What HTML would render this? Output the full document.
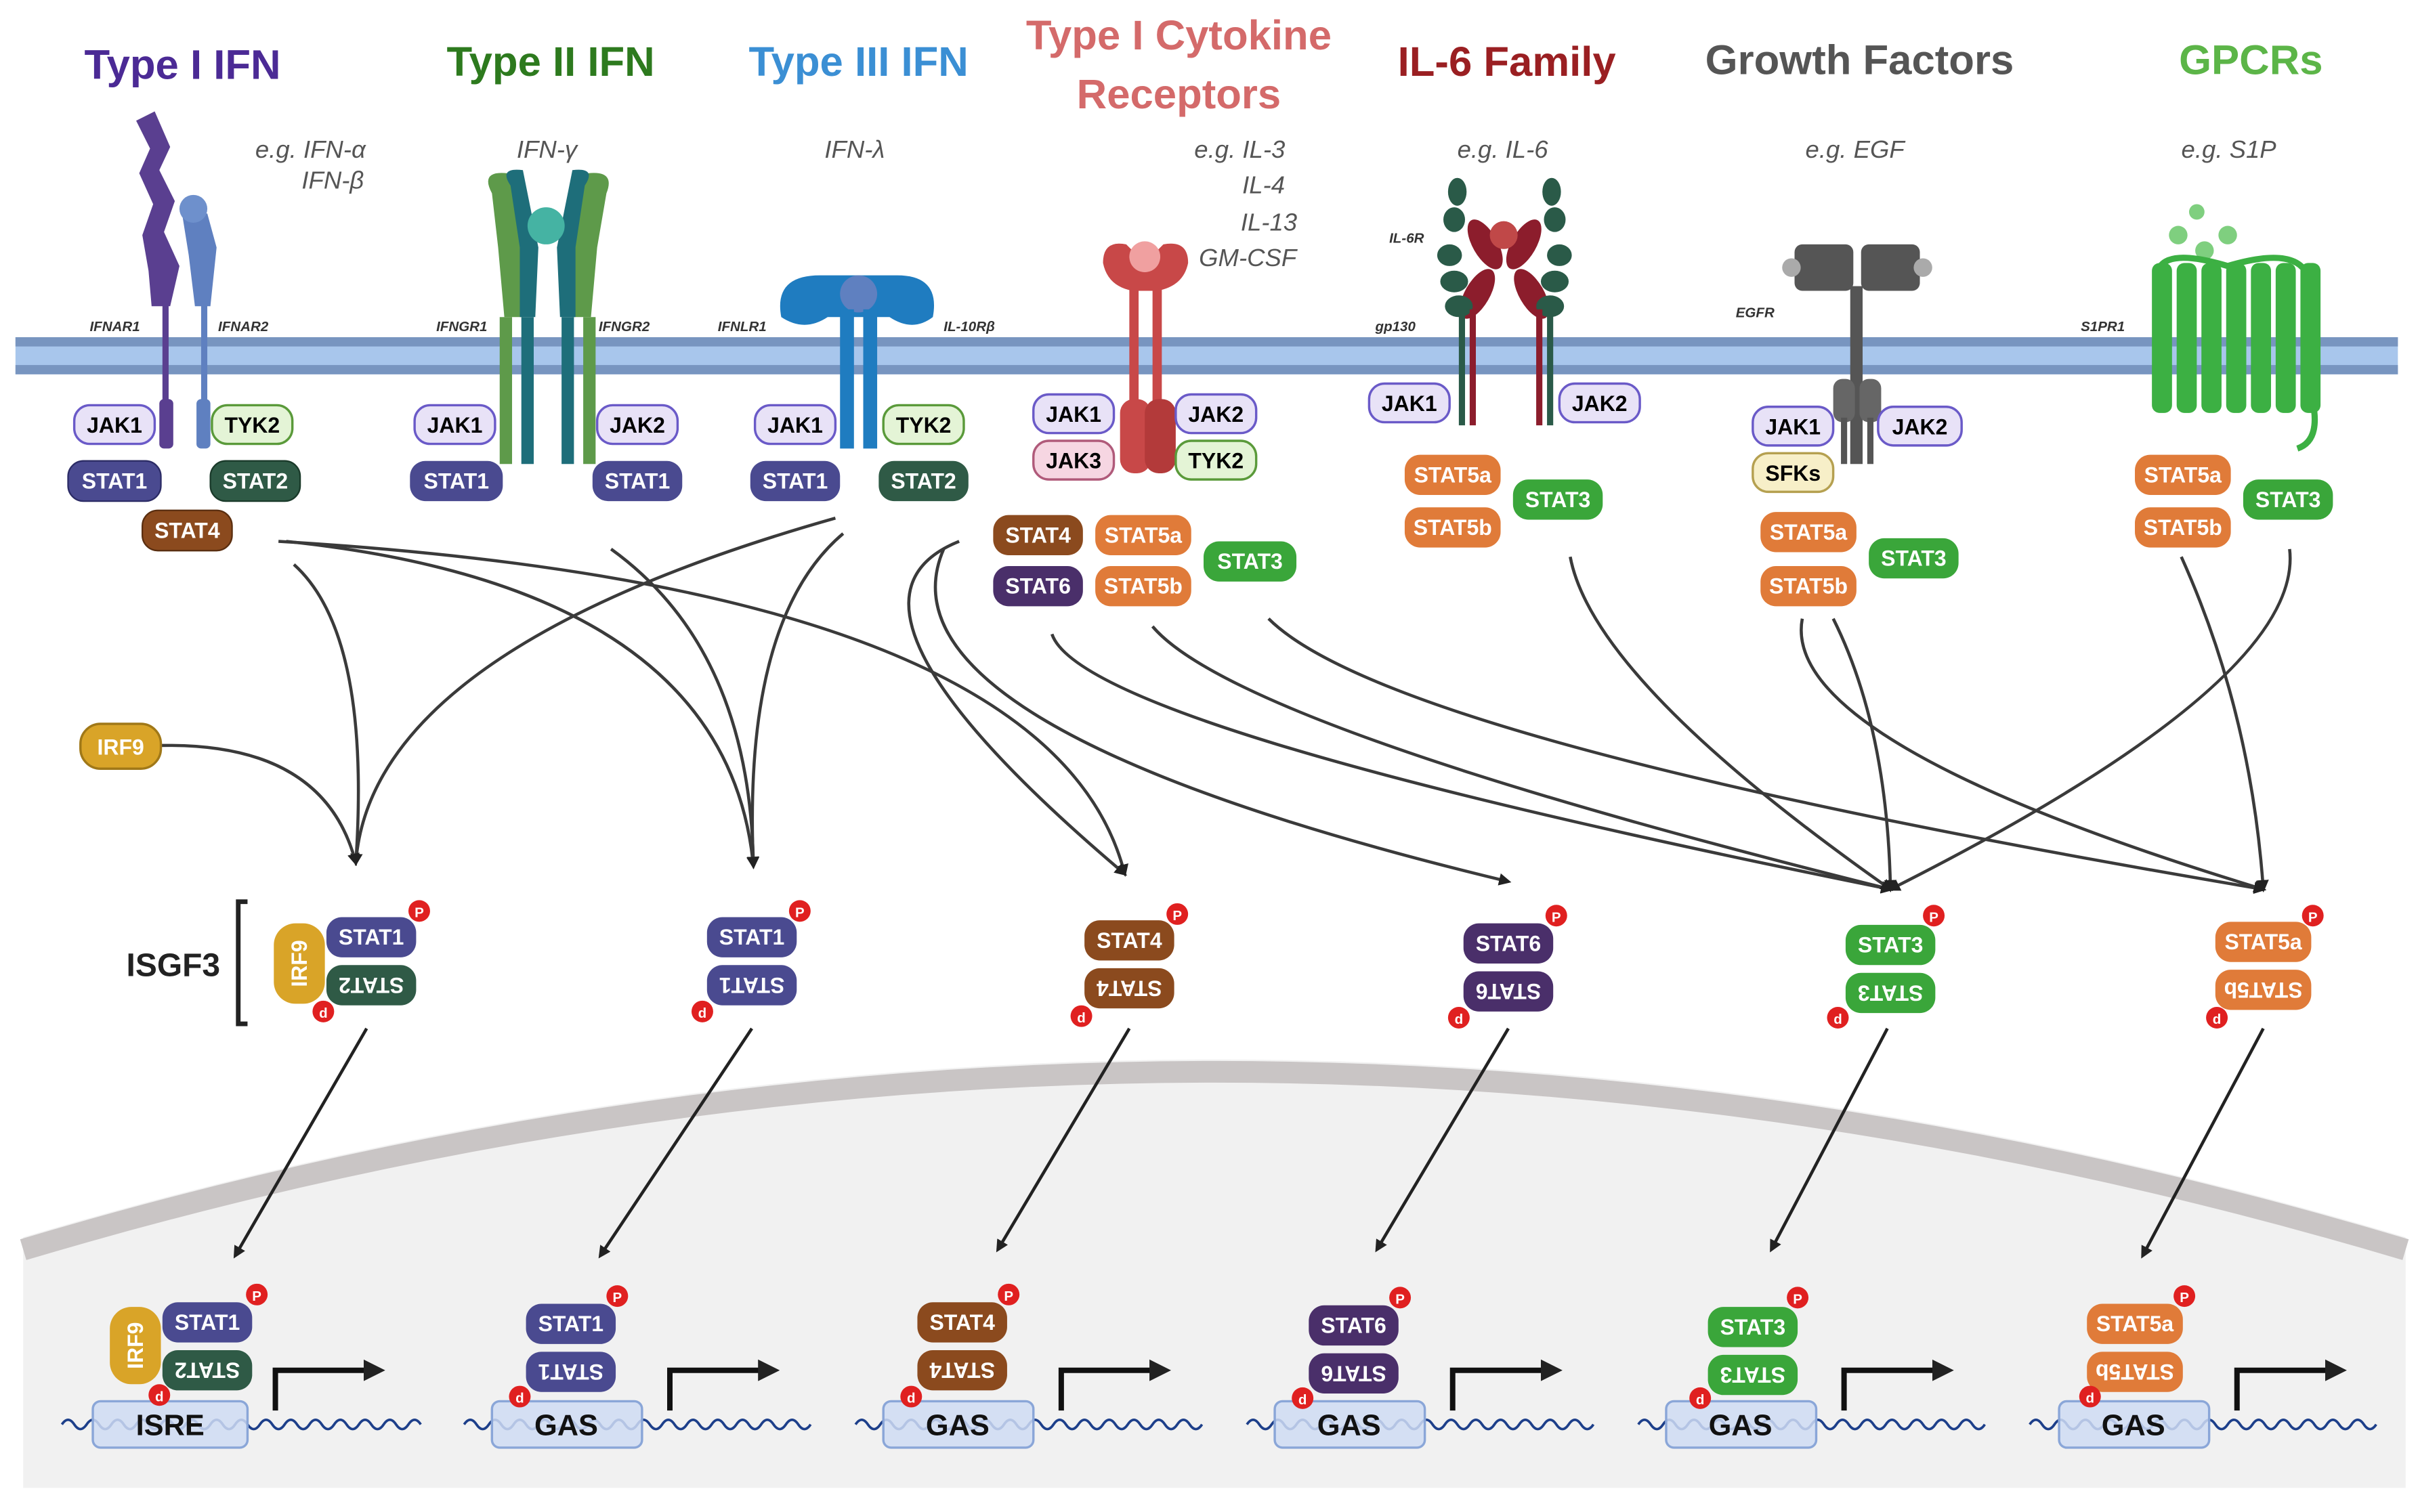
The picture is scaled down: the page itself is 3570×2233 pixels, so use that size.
<!DOCTYPE html>
<html><head><meta charset="utf-8"><style>
html,body{margin:0;padding:0;background:#fff}
svg{display:block}
text{font-family:"Liberation Sans",sans-serif}
.p{font-weight:bold;font-size:14px;text-anchor:middle;dominant-baseline:central}
.t{font-weight:bold;font-size:27px;text-anchor:middle}
.s{font-style:italic;font-size:16px;fill:#555}
.l{font-style:italic;font-weight:bold;font-size:9px;fill:#333}
.c{fill:none;stroke:#3a3a3a;stroke-width:2}
</style></head><body>
<svg width="3570" height="2233" viewBox="0 0 1563 977.6" xmlns="http://www.w3.org/2000/svg">
<defs>
<marker id="a" markerWidth="8" markerHeight="8" refX="6" refY="4" orient="auto" markerUnits="userSpaceOnUse"><path d="M0,0 L8,4 L0,8 Z" fill="#222"/></marker>
<marker id="b" markerWidth="14" markerHeight="14" refX="10" refY="7" orient="auto" markerUnits="userSpaceOnUse"><path d="M0,0 L14,7 L0,14 Z" fill="#222"/></marker>
</defs>
<rect width="1563" height="978" fill="#fff"/>
<!-- nucleus -->
<path d="M15,800 Q785,570 1555,800 L1555,962 L15,962 Z" fill="#f1f1f1"/>
<path d="M15,808 Q785,578 1555,808" fill="none" stroke="#c9c5c5" stroke-width="14"/>
<!-- titles -->
<text class="t" x="118" y="51" fill="#4b2a95">Type I IFN</text>
<text class="t" x="356" y="49" fill="#2d7a1e">Type II IFN</text>
<text class="t" x="555" y="49" fill="#3b8fd4">Type III IFN</text>
<text class="t" x="762" y="32" fill="#d46a6a">Type I Cytokine</text>
<text class="t" x="762" y="70" fill="#d46a6a">Receptors</text>
<text class="t" x="974" y="49" fill="#9a1f22">IL-6 Family</text>
<text class="t" x="1202" y="48" fill="#555">Growth Factors</text>
<text class="t" x="1455" y="48" fill="#5cb548">GPCRs</text>
<text class="s" x="165" y="102">e.g. IFN-α</text>
<text class="s" x="195" y="122">IFN-β</text>
<text class="s" x="334" y="102">IFN-γ</text>
<text class="s" x="533" y="102">IFN-λ</text>
<text class="s" x="772" y="102">e.g. IL-3</text>
<text class="s" x="803" y="125">IL-4</text>
<text class="s" x="802" y="149">IL-13</text>
<text class="s" x="775" y="172">GM-CSF</text>
<text class="s" x="942" y="102">e.g. IL-6</text>
<text class="s" x="1167" y="102">e.g. EGF</text>
<text class="s" x="1410" y="102">e.g. S1P</text>
<!-- membrane -->
<rect x="10" y="218" width="1540" height="24" fill="#a8c6ec"/>
<rect x="10" y="218" width="1540" height="6" fill="#7895c0"/>
<rect x="10" y="236" width="1540" height="6" fill="#7895c0"/>
<!-- receptors -->
<g>
<path d="M88,78 L100,72 L110,95 L103,110 L113,130 L106,150 L116,172 L110,198 L98,198 L96,175 L92,152 L99,132 L90,112 L97,96 Z" fill="#5a3f90"/>
<rect x="105" y="195" width="4" height="65" fill="#5a3f90"/><rect x="103" y="258" width="9" height="32" rx="3" fill="#5a3f90"/>
<path d="M118,140 L134,138 L140,160 L136,198 L126,198 L122,165 Z" fill="#5f80c0"/>
<circle cx="125" cy="135" r="9" fill="#6e90cc"/>
<rect x="130" y="195" width="4" height="65" fill="#5f80c0"/><rect x="127" y="258" width="9" height="32" rx="3" fill="#5f80c0"/>
<text class="l" x="58" y="214">IFNAR1</text><text class="l" x="141" y="214">IFNAR2</text>
</g>
<g>
<path d="M318,125 Q310,110 328,112 L342,160 L338,205 L326,205 L322,160 Z" fill="#5e9a4a"/>
<path d="M392,125 Q398,110 380,112 L366,160 L370,205 L382,205 L386,160 Z" fill="#5e9a4a"/>
<path d="M330,120 Q322,108 338,110 L348,160 L346,205 L336,205 L336,160 Z" fill="#1e6e7a"/>
<path d="M378,120 Q386,108 370,110 L360,160 L362,205 L372,205 L372,160 Z" fill="#1e6e7a"/>
<circle cx="353" cy="146" r="12" fill="#45b3a3"/>
<rect x="323" y="205" width="8" height="95" fill="#5e9a4a"/><rect x="337" y="205" width="8" height="95" fill="#1e6e7a"/>
<rect x="363" y="205" width="8" height="95" fill="#1e6e7a"/><rect x="377" y="205" width="8" height="95" fill="#5e9a4a"/>
<text class="l" x="282" y="214">IFNGR1</text><text class="l" x="387" y="214">IFNGR2</text>
</g>
<g>
<path d="M505,205 Q500,178 530,178 L580,178 Q608,178 603,205 Q590,215 575,205 L535,205 Q520,215 505,205 Z" fill="#1f7cc0"/>
<circle cx="555" cy="190" r="12" fill="#5f80c0"/>
<rect x="543" y="200" width="9" height="90" fill="#1f7cc0"/><rect x="558" y="200" width="9" height="90" fill="#1f7cc0"/>
<text class="l" x="464" y="214">IFNLR1</text><text class="l" x="610" y="214">IL-10Rβ</text>
</g>
<g>
<path d="M713,170 Q713,155 728,158 L740,170 L752,158 Q768,155 768,170 Q765,185 748,188 L732,188 Q716,185 713,170 Z" fill="#c84848"/>
<circle cx="740" cy="166" r="10" fill="#f0a0a0"/>
<rect x="730" y="185" width="6" height="75" fill="#c84848"/><rect x="745" y="185" width="6" height="75" fill="#c84848"/>
<rect x="724" y="258" width="20" height="48" rx="9" fill="#c84848"/><rect x="740" y="258" width="20" height="48" rx="9" fill="#b33a3a"/>
</g>
<g>
<g fill="#8c1d2c">
<ellipse cx="960" cy="158" rx="8" ry="18" transform="rotate(-30 960 158)"/><ellipse cx="985" cy="158" rx="8" ry="18" transform="rotate(30 985 158)"/>
<ellipse cx="955" cy="190" rx="8" ry="18" transform="rotate(30 955 190)"/><ellipse cx="990" cy="190" rx="8" ry="18" transform="rotate(-30 990 190)"/>
</g>
<circle cx="972" cy="152" r="9" fill="#c04848"/>
<g fill="#2a5a48">
<ellipse cx="942" cy="124" rx="6" ry="9"/><ellipse cx="940" cy="142" rx="7" ry="8"/><ellipse cx="937" cy="165" rx="8" ry="7"/><ellipse cx="940" cy="182" rx="9" ry="7"/><ellipse cx="943" cy="198" rx="9" ry="7"/>
<ellipse cx="1003" cy="124" rx="6" ry="9"/><ellipse cx="1005" cy="142" rx="7" ry="8"/><ellipse cx="1008" cy="165" rx="8" ry="7"/><ellipse cx="1005" cy="182" rx="9" ry="7"/><ellipse cx="1002" cy="198" rx="9" ry="7"/>
</g>
<rect x="943" y="200" width="4" height="75" fill="#2a5a48"/><rect x="950" y="200" width="4" height="75" fill="#8c1d2c"/>
<rect x="993" y="200" width="4" height="75" fill="#8c1d2c"/><rect x="1000" y="200" width="4" height="75" fill="#2a5a48"/>
<text class="l" x="898" y="157">IL-6R</text><text class="l" x="889" y="214">gp130</text>
</g>
<g>
<rect x="1160" y="158" width="38" height="30" rx="5" fill="#555"/><rect x="1203" y="158" width="38" height="30" rx="5" fill="#555"/>
<circle cx="1158" cy="173" r="6" fill="#aaa"/><circle cx="1243" cy="173" r="6" fill="#aaa"/>
<rect x="1196" y="185" width="8" height="115" fill="#555"/>
<rect x="1185" y="245" width="14" height="28" rx="6" fill="#666"/><rect x="1202" y="245" width="14" height="28" rx="6" fill="#666"/>
<rect x="1190" y="270" width="4" height="30" fill="#555"/><rect x="1207" y="270" width="4" height="30" fill="#555"/>
<text class="l" x="1122" y="205">EGFR</text>
</g>
<g>
<circle cx="1420" cy="137" r="5" fill="#7fcf7f"/><circle cx="1408" cy="152" r="6" fill="#7fcf7f"/><circle cx="1425" cy="162" r="6" fill="#7fcf7f"/><circle cx="1440" cy="152" r="6" fill="#7fcf7f"/>
<path d="M1395,175 Q1400,160 1440,172 Q1480,160 1490,175" fill="none" stroke="#3cb043" stroke-width="4"/>
<g fill="#3cb043">
<rect x="1391" y="170" width="13" height="97" rx="5"/><rect x="1407" y="170" width="13" height="97" rx="5"/><rect x="1423" y="170" width="13" height="97" rx="5"/><rect x="1439" y="170" width="13" height="97" rx="5"/><rect x="1455" y="170" width="13" height="97" rx="5"/><rect x="1471" y="170" width="13" height="97" rx="5"/><rect x="1487" y="170" width="13" height="97" rx="5"/>
</g>
<path d="M1495,260 Q1500,285 1485,290" fill="none" stroke="#3cb043" stroke-width="4"/>
<text class="l" x="1345" y="214">S1PR1</text>
</g>
<!-- curves -->
<g class="c" marker-end="url(#a)">
<path class="c" d="M190,365 Q240,410 230,558"/>
<path class="c" d="M185,350 Q470,380 487,560"/>
<path class="c" d="M180,350 Q680,380 727,565"/>
<path class="c" d="M395,355 Q485,420 487,560"/>
<path class="c" d="M540,335 Q240,420 230,558"/>
<path class="c" d="M545,345 Q480,400 487,560"/>
<path class="c" d="M104,482 Q210,480 230,558"/>
<path class="c" d="M620,350 Q520,390 727,565"/>
<path class="c" d="M610,355 Q560,470 975,570"/>
<path class="c" d="M680,410 Q700,470 1222,575"/>
<path class="c" d="M745,405 Q800,470 1222,575"/>
<path class="c" d="M820,400 Q900,480 1463,575"/>
<path class="c" d="M1015,360 Q1030,440 1222,575"/>
<path class="c" d="M1165,400 Q1150,480 1463,575"/>
<path class="c" d="M1185,400 Q1220,470 1222,575"/>
<path class="c" d="M1480,355 Q1490,440 1222,575"/>
<path class="c" d="M1410,360 Q1455,460 1463,575"/>
</g>
<!-- straight arrows -->
<g stroke="#222" stroke-width="2" marker-end="url(#a)">
<line x1="237" y1="665" x2="152" y2="812"/><line x1="486" y1="665" x2="388" y2="812"/>
<line x1="730" y1="665" x2="645" y2="808"/><line x1="975" y1="665" x2="890" y2="808"/>
<line x1="1220" y1="665" x2="1145" y2="808"/><line x1="1463" y1="665" x2="1385" y2="812"/>
</g>
<!-- pills top -->
<g class="pills">
<rect x="48" y="262" width="52" height="25" rx="10" fill="#e8e2f7" stroke="#6a5ac8" stroke-width="1.5"/><text class="p" x="74" y="275">JAK1</text>
<rect x="137" y="262" width="52" height="25" rx="10" fill="#e4f4d6" stroke="#5a9a3a" stroke-width="1.5"/><text class="p" x="163" y="275">TYK2</text>
<rect x="44" y="298" width="60" height="26" rx="10" fill="#4a4a90" stroke="#2c2c66"/><text class="p" x="74" y="311" fill="#fff">STAT1</text>
<rect x="136" y="298" width="58" height="26" rx="10" fill="#2f5a46" stroke="#1a3a2a"/><text class="p" x="165" y="311" fill="#fff">STAT2</text>
<rect x="92" y="330" width="58" height="26" rx="10" fill="#8b4a1e" stroke="#5a2e10"/><text class="p" x="121" y="343" fill="#fff">STAT4</text>
<rect x="268" y="262" width="52" height="25" rx="10" fill="#e8e2f7" stroke="#6a5ac8" stroke-width="1.5"/><text class="p" x="294" y="275">JAK1</text>
<rect x="386" y="262" width="52" height="25" rx="10" fill="#e8e2f7" stroke="#6a5ac8" stroke-width="1.5"/><text class="p" x="412" y="275">JAK2</text>
<rect x="265" y="298" width="60" height="26" rx="10" fill="#4a4a90"/><text class="p" x="295" y="311" fill="#fff">STAT1</text>
<rect x="383" y="298" width="58" height="26" rx="10" fill="#4a4a90"/><text class="p" x="412" y="311" fill="#fff">STAT1</text>
<rect x="488" y="262" width="52" height="25" rx="10" fill="#e8e2f7" stroke="#6a5ac8" stroke-width="1.5"/><text class="p" x="514" y="275">JAK1</text>
<rect x="571" y="262" width="52" height="25" rx="10" fill="#e4f4d6" stroke="#5a9a3a" stroke-width="1.5"/><text class="p" x="597" y="275">TYK2</text>
<rect x="485" y="298" width="58" height="26" rx="10" fill="#4a4a90"/><text class="p" x="514" y="311" fill="#fff">STAT1</text>
<rect x="568" y="298" width="58" height="26" rx="10" fill="#2f5a46"/><text class="p" x="597" y="311" fill="#fff">STAT2</text>
<rect x="668" y="255" width="52" height="25" rx="10" fill="#e8e2f7" stroke="#6a5ac8" stroke-width="1.5"/><text class="p" x="694" y="268">JAK1</text>
<rect x="760" y="255" width="52" height="25" rx="10" fill="#e8e2f7" stroke="#6a5ac8" stroke-width="1.5"/><text class="p" x="786" y="268">JAK2</text>
<rect x="668" y="285" width="52" height="25" rx="10" fill="#f6d6e2" stroke="#b05a7a" stroke-width="1.5"/><text class="p" x="694" y="298">JAK3</text>
<rect x="760" y="285" width="52" height="25" rx="10" fill="#e4f4d6" stroke="#5a9a3a" stroke-width="1.5"/><text class="p" x="786" y="298">TYK2</text>
<rect x="642" y="333" width="58" height="26" rx="10" fill="#8b4a1e"/><text class="p" x="671" y="346" fill="#fff">STAT4</text>
<rect x="708" y="333" width="62" height="26" rx="10" fill="#e07b39"/><text class="p" x="739" y="346" fill="#fff">STAT5a</text>
<rect x="642" y="366" width="58" height="26" rx="10" fill="#4a2f6a"/><text class="p" x="671" y="379" fill="#fff">STAT6</text>
<rect x="708" y="366" width="62" height="26" rx="10" fill="#e07b39"/><text class="p" x="739" y="379" fill="#fff">STAT5b</text>
<rect x="778" y="350" width="60" height="26" rx="10" fill="#3aa63a"/><text class="p" x="808" y="363" fill="#fff">STAT3</text>
<rect x="885" y="248" width="52" height="25" rx="10" fill="#e8e2f7" stroke="#6a5ac8" stroke-width="1.5"/><text class="p" x="911" y="261">JAK1</text>
<rect x="1008" y="248" width="52" height="25" rx="10" fill="#e8e2f7" stroke="#6a5ac8" stroke-width="1.5"/><text class="p" x="1034" y="261">JAK2</text>
<rect x="908" y="294" width="62" height="26" rx="10" fill="#e07b39"/><text class="p" x="939" y="307" fill="#fff">STAT5a</text>
<rect x="908" y="328" width="62" height="26" rx="10" fill="#e07b39"/><text class="p" x="939" y="341" fill="#fff">STAT5b</text>
<rect x="978" y="310" width="58" height="26" rx="10" fill="#3aa63a"/><text class="p" x="1007" y="323" fill="#fff">STAT3</text>
<rect x="1133" y="263" width="52" height="25" rx="10" fill="#e8e2f7" stroke="#6a5ac8" stroke-width="1.5"/><text class="p" x="1159" y="276">JAK1</text>
<rect x="1214" y="263" width="54" height="25" rx="10" fill="#e8e2f7" stroke="#6a5ac8" stroke-width="1.5"/><text class="p" x="1241" y="276">JAK2</text>
<rect x="1133" y="293" width="52" height="25" rx="10" fill="#f7efc8" stroke="#b5a050" stroke-width="1.5"/><text class="p" x="1159" y="306">SFKs</text>
<rect x="1138" y="331" width="62" height="26" rx="10" fill="#e07b39"/><text class="p" x="1169" y="344" fill="#fff">STAT5a</text>
<rect x="1138" y="366" width="62" height="26" rx="10" fill="#e07b39"/><text class="p" x="1169" y="379" fill="#fff">STAT5b</text>
<rect x="1208" y="348" width="58" height="26" rx="10" fill="#3aa63a"/><text class="p" x="1237" y="361" fill="#fff">STAT3</text>
<rect x="1380" y="294" width="62" height="26" rx="10" fill="#e07b39"/><text class="p" x="1411" y="307" fill="#fff">STAT5a</text>
<rect x="1380" y="328" width="62" height="26" rx="10" fill="#e07b39"/><text class="p" x="1411" y="341" fill="#fff">STAT5b</text>
<rect x="1450" y="310" width="58" height="26" rx="10" fill="#3aa63a"/><text class="p" x="1479" y="323" fill="#fff">STAT3</text>
<rect x="52" y="468" width="52" height="29" rx="13" fill="#d9a428" stroke="#a07818" stroke-width="1.5"/><text class="p" x="78" y="483" fill="#fff" font-size="16">IRF9</text>
</g>
<!-- ISGF3 -->
<text x="112" y="631" font-size="21" font-weight="bold" text-anchor="middle" fill="#222">ISGF3</text>
<path d="M160,583 L154,583 L154,662 L160,662" fill="none" stroke="#222" stroke-width="3"/>
<rect x="177" y="597" width="33" height="52" rx="14" fill="#d9a428"/><text class="p" x="193.5" y="623" fill="#fff" font-size="15" transform="rotate(-90 193.5 623)">IRF9</text>
<!-- mid dimers -->
<g>
<rect x="211" y="593" width="58" height="26" rx="10" fill="#4a4a90"/><text class="p" x="240" y="606" fill="#fff">STAT1</text>
<rect x="211" y="624" width="58" height="26" rx="10" fill="#2f5a46"/><text class="p" x="240" y="637" fill="#fff" transform="rotate(180 240 637)">STAT2</text>
<circle cx="271" cy="589" r="7" fill="#e02020"/><text x="271" y="593" font-size="9" font-weight="bold" fill="#fff" text-anchor="middle">P</text>
<circle cx="209" cy="654" r="7" fill="#e02020"/><text x="209" y="658" font-size="9" font-weight="bold" fill="#fff" text-anchor="middle">d</text>
<rect x="457" y="593" width="58" height="26" rx="10" fill="#4a4a90"/><text class="p" x="486" y="606" fill="#fff">STAT1</text>
<rect x="457" y="624" width="58" height="26" rx="10" fill="#4a4a90"/><text class="p" x="486" y="637" fill="#fff" transform="rotate(180 486 637)">STAT1</text>
<circle cx="517" cy="589" r="7" fill="#e02020"/><text x="517" y="593" font-size="9" font-weight="bold" fill="#fff" text-anchor="middle">P</text>
<circle cx="454" cy="654" r="7" fill="#e02020"/><text x="454" y="658" font-size="9" font-weight="bold" fill="#fff" text-anchor="middle">d</text>
<rect x="701" y="595" width="58" height="26" rx="10" fill="#8b4a1e"/><text class="p" x="730" y="608" fill="#fff">STAT4</text>
<rect x="701" y="626" width="58" height="26" rx="10" fill="#8b4a1e"/><text class="p" x="730" y="639" fill="#fff" transform="rotate(180 730 639)">STAT4</text>
<circle cx="761" cy="591" r="7" fill="#e02020"/><text x="761" y="595" font-size="9" font-weight="bold" fill="#fff" text-anchor="middle">P</text>
<circle cx="699" cy="657" r="7" fill="#e02020"/><text x="699" y="661" font-size="9" font-weight="bold" fill="#fff" text-anchor="middle">d</text>
<rect x="946" y="597" width="58" height="26" rx="10" fill="#4a2f6a"/><text class="p" x="975" y="610" fill="#fff">STAT6</text>
<rect x="946" y="628" width="58" height="26" rx="10" fill="#4a2f6a"/><text class="p" x="975" y="641" fill="#fff" transform="rotate(180 975 641)">STAT6</text>
<circle cx="1006" cy="592" r="7" fill="#e02020"/><text x="1006" y="596" font-size="9" font-weight="bold" fill="#fff" text-anchor="middle">P</text>
<circle cx="943" cy="658" r="7" fill="#e02020"/><text x="943" y="662" font-size="9" font-weight="bold" fill="#fff" text-anchor="middle">d</text>
<rect x="1193" y="598" width="58" height="26" rx="10" fill="#3aa63a"/><text class="p" x="1222" y="611" fill="#fff">STAT3</text>
<rect x="1193" y="629" width="58" height="26" rx="10" fill="#3aa63a"/><text class="p" x="1222" y="642" fill="#fff" transform="rotate(180 1222 642)">STAT3</text>
<circle cx="1250" cy="592" r="7" fill="#e02020"/><text x="1250" y="596" font-size="9" font-weight="bold" fill="#fff" text-anchor="middle">P</text>
<circle cx="1188" cy="658" r="7" fill="#e02020"/><text x="1188" y="662" font-size="9" font-weight="bold" fill="#fff" text-anchor="middle">d</text>
<rect x="1432" y="596" width="62" height="26" rx="10" fill="#e07b39"/><text class="p" x="1463" y="609" fill="#fff">STAT5a</text>
<rect x="1432" y="627" width="62" height="26" rx="10" fill="#e07b39"/><text class="p" x="1463" y="640" fill="#fff" transform="rotate(180 1463 640)">STAT5b</text>
<circle cx="1495" cy="592" r="7" fill="#e02020"/><text x="1495" y="596" font-size="9" font-weight="bold" fill="#fff" text-anchor="middle">P</text>
<circle cx="1433" cy="658" r="7" fill="#e02020"/><text x="1433" y="662" font-size="9" font-weight="bold" fill="#fff" text-anchor="middle">d</text>
</g>
<!-- bottom: DNA + dimers -->
<g fill="none" stroke="#1d3f8a" stroke-width="1.6">
<path d="M40,921 q4,-6 8,0 t8,0 t8,0 t8,0 t8,0 t8,0 t8,0 t8,0 t8,0 t8,0 t8,0 t8,0 t8,0 t8,0 t8,0 t8,0 t8,0 t8,0 t8,0 t8,0 t8,0 t8,0 t8,0 t8,0 t8,0 t8,0 t8,0 t8,0 t8,0"/>
<path d="M300,921 q4,-6 8,0 t8,0 t8,0 t8,0 t8,0 t8,0 t8,0 t8,0 t8,0 t8,0 t8,0 t8,0 t8,0 t8,0 t8,0 t8,0 t8,0 t8,0 t8,0 t8,0 t8,0 t8,0 t8,0 t8,0 t8,0 t8,0 t8,0 t8,0"/>
<path d="M553,921 q4,-6 8,0 t8,0 t8,0 t8,0 t8,0 t8,0 t8,0 t8,0 t8,0 t8,0 t8,0 t8,0 t8,0 t8,0 t8,0 t8,0 t8,0 t8,0 t8,0 t8,0 t8,0 t8,0 t8,0 t8,0 t8,0 t8,0 t8,0 t8,0"/>
<path d="M806,921 q4,-6 8,0 t8,0 t8,0 t8,0 t8,0 t8,0 t8,0 t8,0 t8,0 t8,0 t8,0 t8,0 t8,0 t8,0 t8,0 t8,0 t8,0 t8,0 t8,0 t8,0 t8,0 t8,0 t8,0 t8,0 t8,0 t8,0 t8,0 t8,0"/>
<path d="M1059,921 q4,-6 8,0 t8,0 t8,0 t8,0 t8,0 t8,0 t8,0 t8,0 t8,0 t8,0 t8,0 t8,0 t8,0 t8,0 t8,0 t8,0 t8,0 t8,0 t8,0 t8,0 t8,0 t8,0 t8,0 t8,0 t8,0 t8,0 t8,0 t8,0"/>
<path d="M1312,921 q4,-6 8,0 t8,0 t8,0 t8,0 t8,0 t8,0 t8,0 t8,0 t8,0 t8,0 t8,0 t8,0 t8,0 t8,0 t8,0 t8,0 t8,0 t8,0 t8,0 t8,0 t8,0 t8,0 t8,0 t8,0 t8,0 t8,0 t8,0 t8,0"/>
</g>
<g fill="#cfdcf3" fill-opacity="0.85" stroke="#8aa6d8" stroke-width="1.5">
<rect x="60" y="906" width="100" height="30" rx="5"/><rect x="318" y="906" width="97" height="30" rx="5"/><rect x="571" y="906" width="97" height="30" rx="5"/>
<rect x="824" y="906" width="97" height="30" rx="5"/><rect x="1077" y="906" width="97" height="30" rx="5"/><rect x="1331" y="906" width="97" height="30" rx="5"/>
</g>
<g font-size="19" font-weight="bold" text-anchor="middle" fill="#111">
<text x="110" y="928">ISRE</text><text x="366" y="928">GAS</text><text x="619" y="928">GAS</text><text x="872" y="928">GAS</text><text x="1125" y="928">GAS</text><text x="1379" y="928">GAS</text>
</g>
<g fill="none" stroke="#111" stroke-width="3.5" marker-end="url(#b)">
<path d="M178,912 V886 H245"/><path d="M433,912 V886 H500"/><path d="M686,912 V886 H753"/>
<path d="M939,912 V886 H1006"/><path d="M1192,912 V886 H1259"/><path d="M1446,912 V886 H1513"/>
</g>
<rect x="71" y="845" width="33" height="50" rx="14" fill="#d9a428"/><text class="p" x="87.5" y="870" fill="#fff" font-size="15" transform="rotate(-90 87.5 870)">IRF9</text>
<g>
<rect x="105" y="842" width="58" height="26" rx="10" fill="#4a4a90"/><text class="p" x="134" y="855" fill="#fff">STAT1</text>
<rect x="105" y="873" width="58" height="26" rx="10" fill="#2f5a46"/><text class="p" x="134" y="886" fill="#fff" transform="rotate(180 134 886)">STAT2</text>
<circle cx="166" cy="837" r="7" fill="#e02020"/><text x="166" y="841" font-size="9" font-weight="bold" fill="#fff" text-anchor="middle">P</text>
<circle cx="103" cy="902" r="7" fill="#e02020"/><text x="103" y="906" font-size="9" font-weight="bold" fill="#fff" text-anchor="middle">d</text>
<rect x="340" y="843" width="58" height="26" rx="10" fill="#4a4a90"/><text class="p" x="369" y="856" fill="#fff">STAT1</text>
<rect x="340" y="874" width="58" height="26" rx="10" fill="#4a4a90"/><text class="p" x="369" y="887" fill="#fff" transform="rotate(180 369 887)">STAT1</text>
<circle cx="399" cy="838" r="7" fill="#e02020"/><text x="399" y="842" font-size="9" font-weight="bold" fill="#fff" text-anchor="middle">P</text>
<circle cx="336" cy="903" r="7" fill="#e02020"/><text x="336" y="907" font-size="9" font-weight="bold" fill="#fff" text-anchor="middle">d</text>
<rect x="593" y="842" width="58" height="26" rx="10" fill="#8b4a1e"/><text class="p" x="622" y="855" fill="#fff">STAT4</text>
<rect x="593" y="873" width="58" height="26" rx="10" fill="#8b4a1e"/><text class="p" x="622" y="886" fill="#fff" transform="rotate(180 622 886)">STAT4</text>
<circle cx="652" cy="837" r="7" fill="#e02020"/><text x="652" y="841" font-size="9" font-weight="bold" fill="#fff" text-anchor="middle">P</text>
<circle cx="589" cy="903" r="7" fill="#e02020"/><text x="589" y="907" font-size="9" font-weight="bold" fill="#fff" text-anchor="middle">d</text>
<rect x="846" y="844" width="58" height="26" rx="10" fill="#4a2f6a"/><text class="p" x="875" y="857" fill="#fff">STAT6</text>
<rect x="846" y="875" width="58" height="26" rx="10" fill="#4a2f6a"/><text class="p" x="875" y="888" fill="#fff" transform="rotate(180 875 888)">STAT6</text>
<circle cx="905" cy="839" r="7" fill="#e02020"/><text x="905" y="843" font-size="9" font-weight="bold" fill="#fff" text-anchor="middle">P</text>
<circle cx="842" cy="904" r="7" fill="#e02020"/><text x="842" y="908" font-size="9" font-weight="bold" fill="#fff" text-anchor="middle">d</text>
<rect x="1104" y="845" width="58" height="26" rx="10" fill="#3aa63a"/><text class="p" x="1133" y="858" fill="#fff">STAT3</text>
<rect x="1104" y="876" width="58" height="26" rx="10" fill="#3aa63a"/><text class="p" x="1133" y="889" fill="#fff" transform="rotate(180 1133 889)">STAT3</text>
<circle cx="1162" cy="839" r="7" fill="#e02020"/><text x="1162" y="843" font-size="9" font-weight="bold" fill="#fff" text-anchor="middle">P</text>
<circle cx="1099" cy="904" r="7" fill="#e02020"/><text x="1099" y="908" font-size="9" font-weight="bold" fill="#fff" text-anchor="middle">d</text>
<rect x="1349" y="843" width="62" height="26" rx="10" fill="#e07b39"/><text class="p" x="1380" y="856" fill="#fff">STAT5a</text>
<rect x="1349" y="874" width="62" height="26" rx="10" fill="#e07b39"/><text class="p" x="1380" y="887" fill="#fff" transform="rotate(180 1380 887)">STAT5b</text>
<circle cx="1412" cy="838" r="7" fill="#e02020"/><text x="1412" y="842" font-size="9" font-weight="bold" fill="#fff" text-anchor="middle">P</text>
<circle cx="1351" cy="903" r="7" fill="#e02020"/><text x="1351" y="907" font-size="9" font-weight="bold" fill="#fff" text-anchor="middle">d</text>
</g>
</svg>
</body></html>
